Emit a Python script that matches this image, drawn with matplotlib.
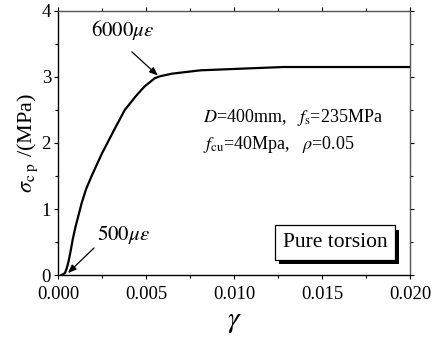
import numpy as np
import matplotlib.pyplot as plt
from matplotlib import patheffects as pe

# data
gamma = [0.0002, 0.0004, 0.0005, 0.0006, 0.0007, 0.00085, 0.0010, 0.00135,
         0.0016, 0.0019, 0.0025, 0.0032, 0.0038, 0.0044, 0.0049, 0.0055,
         0.0058, 0.0065, 0.0081, 0.0109, 0.0128, 0.0160, 0.0200]
stress = [0.00, 0.03, 0.10, 0.20, 0.33, 0.55, 0.73, 1.09,
          1.30, 1.49, 1.84, 2.20, 2.50, 2.70, 2.85, 2.98,
          3.01, 3.05, 3.10, 3.13, 3.15, 3.15, 3.15]

x_ticks = [0.000, 0.005, 0.010, 0.015, 0.020]
x_tick_labels = ["0.000", "0.005", "0.010", "0.015", "0.020"]
y_ticks = [0, 1, 2, 3, 4]

plt.rcParams['font.family'] = ['Liberation Serif', 'DejaVu Serif']
plt.rcParams['mathtext.fontset'] = 'stix'

fig = plt.figure(figsize=(4.32, 3.40), dpi=100)
ax = fig.add_axes([0.134, 0.191, 0.815, 0.777])

ax.plot(gamma, stress, color='black', lw=1.6)

ax.set_xlim(0, 0.020)
ax.set_ylim(0, 4)
ax.set_xticks(x_ticks)
ax.set_xticklabels(x_tick_labels)
ax.set_yticks(y_ticks)
ax.set_xticks(np.arange(0.0025, 0.02, 0.005), minor=True)
ax.set_yticks(np.arange(0.5, 4, 1.0), minor=True)
ax.tick_params(which='both', direction='out', top=True, right=True,
               labelsize=13.5, width=0.8)
ax.tick_params(axis='x', pad=5)
ax.tick_params(axis='y', pad=2)
ax.tick_params(which='major', length=3)
ax.tick_params(which='minor', length=2)
for s in ['top', 'right']:
    ax.spines[s].set_color('#555555')
for s in ax.spines.values():
    s.set_linewidth(1.0)

ax.set_xlabel(r'$\gamma$', fontsize=21, labelpad=4)
ax.set_ylabel(r'$\sigma_{\mathrm{c\ p}}$ /(MPa)', fontsize=16, labelpad=1)

arrow = dict(arrowstyle='-|>,head_length=0.5,head_width=0.2', color='black',
             lw=0.9, shrinkA=0, shrinkB=0)
ax.annotate('', xy=(0.00568, 3.02), xytext=(0.0042, 3.38), arrowprops=arrow)
ax.text(0.0037, 3.71, r'$6000\mu\varepsilon$', fontsize=15, ha='center', va='center')
ax.annotate('', xy=(0.00057, 0.03), xytext=(0.00205, 0.41), arrowprops=arrow)
ax.text(0.00375, 0.62, r'$500\mu\varepsilon$', fontsize=15, ha='center', va='center')

ax.text(0.00825, 2.38, r'$D$=400mm,   $f_{\mathrm{s}}$=235MPa', fontsize=13,
        ha='left', va='center')
ax.text(0.00825, 1.97, r'$f_{\mathrm{cu}}$=40Mpa,   $\rho$=0.05', fontsize=13,
        ha='left', va='center')

t = ax.text(0.01574, 0.49, 'Pure torsion', fontsize=15.5, ha='center', va='center',
            bbox=dict(boxstyle='square,pad=0.36', fc='white', ec='black', lw=0.9))
t.get_bbox_patch().set_path_effects([
    pe.SimplePatchShadow(offset=(3, -3), shadow_rgbFace='black', alpha=1),
    pe.Normal()])

fig.savefig('out.png', dpi=100)
